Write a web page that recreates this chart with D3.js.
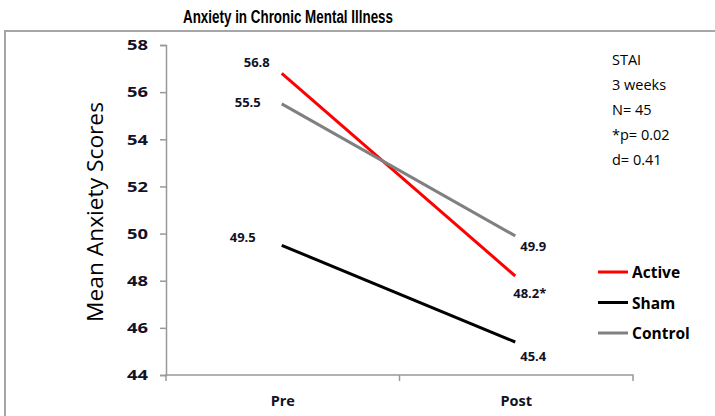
<!DOCTYPE html>
<html><head><meta charset="utf-8">
<script src="https://cdn.jsdelivr.net/npm/d3@7"></script>
<style>body{margin:0;background:#fff}svg{display:block}</style>
</head><body>
<svg id="c" width="715" height="416"></svg>
<script>
const timepoints = ["Pre", "Post"];
const seriesNames = ["Active", "Sham", "Control"];
const seriesColors = ["#ff0000", "#000000", "#808080"];
const activeValues = [56.8, 48.2];
const shamValues = [49.5, 45.4];
const controlValues = [55.5, 49.9];
const activeLabels = ["56.8", "48.2*"];
const shamLabels = ["49.5", "45.4"];
const controlLabels = ["55.5", "49.9"];
const yTicks = [44, 46, 48, 50, 52, 54, 56, 58];
const notes = ["STAI", "3 weeks", "N= 45", "*p= 0.02", "d= 0.41"];

(function () {
// label placement (layout only): [dx, dy] relative to the data point
const labelLayout = {
  Active:  {pre: [-25, -6], post: [-2, 22]},
  Sham:    {pre: [-39, -3], post: [5, 19]},
  Control: {pre: [-34, 3],  post: [5, 15]}
};
const series = [
  {name: seriesNames[0], color: seriesColors[0], values: activeValues, labels: activeLabels},
  {name: seriesNames[1], color: seriesColors[1], values: shamValues, labels: shamLabels},
  {name: seriesNames[2], color: seriesColors[2], values: controlValues, labels: controlLabels}
];

const svg = d3.select("#c");
const pLeft = 166, pRight = 633, pTop = 45, pBottom = 375;
const labelColor = "#111127";

// frame
svg.append("path").attr("d", `M5,430 L5,31 L720,31`).attr("fill", "none")
  .attr("stroke", "#a6a6a6").attr("stroke-width", 2);

// title
svg.append("text").attr("x", 288).attr("y", 23).attr("text-anchor", "middle")
  .attr("font-family", "Liberation Sans, Arial, sans-serif").attr("font-weight", "bold")
  .attr("font-size", 18).attr("textLength", 210).attr("lengthAdjust", "spacingAndGlyphs")
  .attr("fill", "#000").text("Anxiety in Chronic Mental Illness");

const x = d3.scaleBand().domain(timepoints).range([pLeft, pRight]);
const xc = d => x(d) + x.bandwidth() / 2 - 1;
const y = d3.scaleLinear().domain([44, 58]).range([pBottom, pTop]);

// y axis
const ya = svg.append("g").attr("transform", `translate(${pLeft},0)`)
  .call(d3.axisLeft(y).tickValues(yTicks).tickSize(6).tickPadding(12).tickFormat(d3.format("d")));
ya.select(".domain").attr("stroke", "#999").attr("stroke-width", 1.5);
ya.selectAll(".tick line").attr("stroke", "#999").attr("stroke-width", 1.5);
ya.selectAll(".tick text").attr("font-family", "Open Sans, sans-serif").attr("font-weight", "bold")
  .attr("font-size", 15).attr("fill", labelColor)
  .attr("textLength", 21).attr("lengthAdjust", "spacingAndGlyphs");

// x axis
const xa = svg.append("g").attr("transform", `translate(0,${pBottom})`)
  .call(d3.axisBottom(x).tickSize(0).tickPadding(21));
xa.select(".domain").attr("stroke", "#999").attr("stroke-width", 1.5)
  .attr("d", `M${pLeft},6V0H${pRight}V6`);
xa.selectAll(".tick text").attr("font-family", "Open Sans, sans-serif").attr("font-weight", "bold")
  .attr("font-size", 14.5).attr("fill", labelColor);
xa.append("line").attr("x1", x("Post")).attr("x2", x("Post")).attr("y1", 0).attr("y2", 6)
  .attr("stroke", "#999").attr("stroke-width", 1.5);

// y axis title
svg.append("text").attr("transform", `translate(103,${(pTop + pBottom) / 2 + 2}) rotate(-90)`)
  .attr("text-anchor", "middle").attr("font-family", "Open Sans, sans-serif")
  .attr("font-size", 22).attr("font-weight", 500).attr("fill", "#000")
  .attr("textLength", 220).attr("lengthAdjust", "spacingAndGlyphs")
  .text("Mean Anxiety Scores");

// lines
const line = d3.line().x((d, i) => xc(timepoints[i])).y(d => y(d));
series.forEach(s => {
  svg.append("path").attr("d", line(s.values)).attr("fill", "none")
    .attr("stroke", s.color).attr("stroke-width", 3);
});

// data labels
series.forEach(s => {
  const L = labelLayout[s.name];
  svg.append("text").attr("x", xc("Pre") + L.pre[0]).attr("y", y(s.values[0]) + L.pre[1])
    .attr("text-anchor", "middle").attr("font-family", "Open Sans, sans-serif").attr("font-weight", "bold")
    .attr("font-size", 13).attr("fill", labelColor).text(s.labels[0]);
  svg.append("text").attr("x", xc("Post") + L.post[0]).attr("y", y(s.values[1]) + L.post[1])
    .attr("text-anchor", "start").attr("font-family", "Open Sans, sans-serif").attr("font-weight", "bold")
    .attr("font-size", 13).attr("fill", labelColor).text(s.labels[1]);
});

// notes
notes.forEach((n, i) => {
  svg.append("text").attr("x", 612).attr("y", 65 + i * 25)
    .attr("font-family", "Open Sans, sans-serif").attr("font-size", 14.5)
    .attr("fill", "#000").text(n);
});

// legend
series.forEach((s, i) => {
  const ly = 272 + i * 30.5;
  svg.append("line").attr("x1", 598).attr("x2", 628).attr("y1", ly).attr("y2", ly)
    .attr("stroke", s.color).attr("stroke-width", 3);
  svg.append("text").attr("x", 632).attr("y", ly + 6)
    .attr("font-family", "Open Sans, sans-serif").attr("font-weight", "bold")
    .attr("font-size", 15.5).attr("fill", "#000").text(s.name);
});
})();
</script>
</body></html>
